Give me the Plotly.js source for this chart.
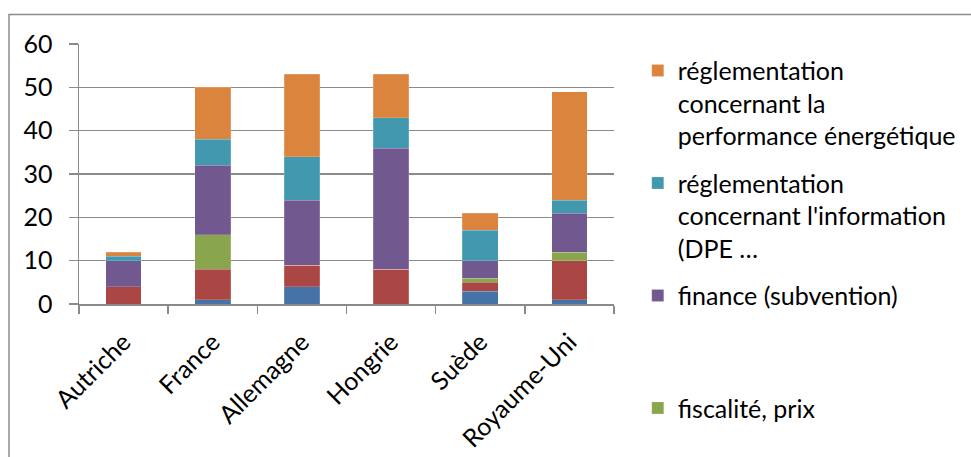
<!DOCTYPE html>
<html>
<head>
<meta charset="utf-8">
<script src="https://cdn.plot.ly/plotly-3.0.1.min.js"></script>
<style>html,body{margin:0;padding:0;background:#fff}#chart{width:971px;height:457px}</style>
</head>
<body>
<div id="chart"></div>
<script>
const categories = ["Autriche", "France", "Allemagne", "Hongrie", "Suède", "Royaume-Uni"];
const serieBleue = [0, 1, 4, 0, 3, 1];
const serieRouge = [4, 7, 5, 8, 2, 9];
const fiscalite = [0, 8, 0, 0, 1, 2];
const finance = [6, 16, 15, 28, 4, 9];
const reglInformation = [1, 6, 10, 7, 7, 3];
const reglPerformance = [1, 12, 19, 10, 4, 25];

const names = {
  bleue: "série 1",
  rouge: "série 2",
  fiscalite: "fiscalité, prix",
  finance: "finance (subvention)<br> <br> ",
  info: "réglementation<br>concernant l'information<br>(DPE …",
  perf: "réglementation<br>concernant la<br>performance énergétique"
};

function bar(y, name, color, show, group, rank) {
  return {
    type: "bar", x: categories, y: y, name: name,
    marker: {color: color, line: {color: "rgba(255,255,255,0.35)", width: 0.5}},
    showlegend: show, legendgroup: group, legendrank: rank, hoverinfo: "skip"
  };
}

const data = [
  bar(serieBleue, names.bleue, "#4572A7", false, "a", 6),
  bar(serieRouge, names.rouge, "#AA4643", false, "b", 5),
  bar(fiscalite, names.fiscalite, "#89A54E", true, "c", 4),
  bar(finance, names.finance, "#71588F", true, "d", 3),
  bar(reglInformation, names.info, "#4198AF", true, "e", 2),
  bar(reglPerformance, names.perf, "#DB843D", true, "f", 1)
];

const gridCol = "#8a8a8a";
const layout = {
  width: 971, height: 457,
  margin: {l: 79, r: 357, t: 43.5, b: 153, pad: 0, autoexpand: false},
  paper_bgcolor: "#fff", plot_bgcolor: "#fff",
  font: {family: "Lato, 'Open Sans', sans-serif", size: 25, color: "#000"},
  barmode: "stack",
  bargap: 0.6,
  showlegend: true,
  legend: {
    x: 1.0444, y: 0.986, xanchor: "left", yanchor: "top",
    traceorder: "grouped", tracegroupgap: 12, maxheight: 1000,
    valign: "top", font: {size: 25, color: "#000"},
    bgcolor: "rgba(0,0,0,0)", itemclick: false
  },
  xaxis: {
    type: "category", tickson: "boundaries", ticks: "outside", ticklen: 8,
    tickcolor: gridCol, tickwidth: 1.5, showline: true, linecolor: gridCol, linewidth: 1.5,
    tickangle: -45, showgrid: false, fixedrange: true, ticklabelstandoff: 12, automargin: false
  },
  yaxis: {
    range: [0, 60], dtick: 10, tick0: 0, ticks: "outside", ticklen: 9,
    tickcolor: gridCol, tickwidth: 1.5, showline: true, linecolor: gridCol, linewidth: 1.5,
    showgrid: true, gridcolor: gridCol, gridwidth: 1.5, zeroline: false,
    ticklabelstandoff: 11, fixedrange: true, automargin: false
  },
  shapes: [{
    type: "rect", xref: "paper", yref: "paper",
    x0: -0.1308, x1: 2.5, y0: -1, y1: 1.113,
    line: {color: "#8c8c8c", width: 1.5}, fillcolor: "rgba(0,0,0,0)", layer: "below"
  }]
};

Plotly.newPlot("chart", data, layout, {displayModeBar: false, staticPlot: true});
</script>
</body>
</html>
